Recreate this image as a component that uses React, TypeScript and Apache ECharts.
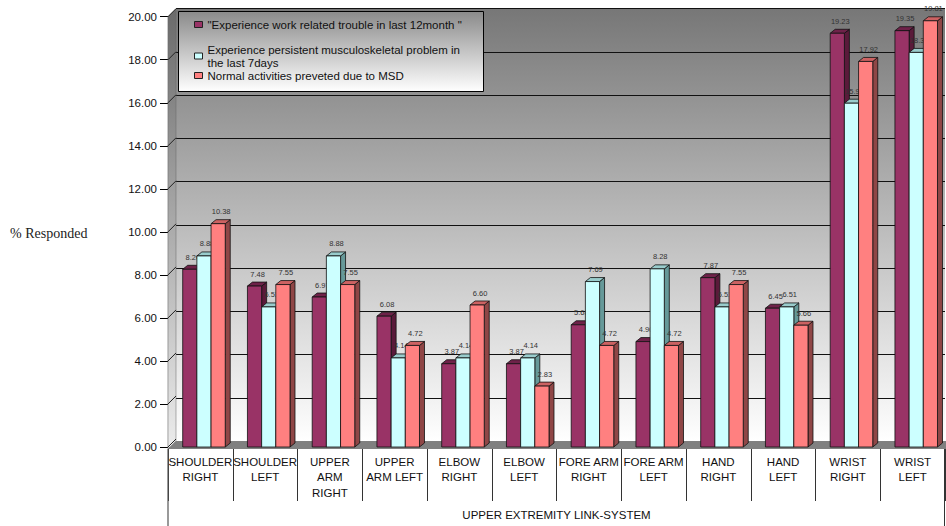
import React, { useEffect, useRef } from "react";
import * as echarts from "echarts";

const categories = [
  "SHOULDER\nRIGHT",
  "SHOULDER\nLEFT",
  "UPPER\nARM\nRIGHT",
  "UPPER\nARM LEFT",
  "ELBOW\nRIGHT",
  "ELBOW\nLEFT",
  "FORE ARM\nRIGHT",
  "FORE ARM\nLEFT",
  "HAND\nRIGHT",
  "HAND\nLEFT",
  "WRIST\nRIGHT",
  "WRIST\nLEFT",
];

const seriesNames = [
  "\"Experience work related trouble in last 12month \"",
  "Experience persistent musculoskeletal problem in the last 7days",
  "Normal activities preveted due to MSD",
];

const trouble12month = [8.26, 7.48, 6.97, 6.08, 3.87, 3.87, 5.68, 4.9, 7.87, 6.45, 19.23, 19.35];
const persistent7days = [8.88, 6.51, 8.88, 4.14, 4.14, 4.14, 7.69, 8.28, 6.51, 6.51, 15.98, 18.34];
const preventedMSD = [10.38, 7.55, 7.55, 4.72, 6.6, 2.83, 4.72, 4.72, 7.55, 5.66, 17.92, 19.81];

const yTicks = [0, 2, 4, 6, 8, 10, 12, 14, 16, 18, 20];

const xAxisTitle = "UPPER EXTREMITY LINK-SYSTEM";
const yAxisTitle = "% Responded";

const FONT = "'Liberation Sans', Arial, sans-serif";

const palette = [
  { front: "#993366", top: "#6e2249", side: "#5a1a3a" },
  { front: "#ccffff", top: "#99cccc", side: "#669999" },
  { front: "#ff8080", top: "#cc6262", side: "#8f4646" },
];

function makeRender(s: number) {
  const c = palette[s];
  return (params: any, api: any) => {
    const ci = api.value(0);
    const v = api.value(1);
    const base = api.coord([ci, 0]);
    const top = api.coord([ci, v]);
    const band = api.size([1, 0])[0];
    const w = band * 0.219;
    const x0 = base[0] - band / 2 + band * 0.227 + s * w;
    const d = 5;
    const dy = 4;
    const yb = base[1];
    const yt = top[1];
    return {
      type: "group",
      children: [
        {
          type: "polygon",
          shape: { points: [[x0 + w, yt], [x0 + w + d, yt - dy], [x0 + w + d, yb - dy], [x0 + w, yb]] },
          style: { fill: c.side, stroke: "#111", lineWidth: 0.8 },
        },
        {
          type: "polygon",
          shape: { points: [[x0, yt], [x0 + d, yt - dy], [x0 + w + d, yt - dy], [x0 + w, yt]] },
          style: { fill: c.top, stroke: "#111", lineWidth: 0.8 },
        },
        {
          type: "rect",
          shape: { x: x0, y: yt, width: w, height: yb - yt },
          style: { fill: c.front, stroke: "#111", lineWidth: 0.8 },
        },
        {
          type: "text",
          x: x0 + w / 2 + 3,
          y: yt - 12,
          style: {
            text: v.toFixed(2),
            fontSize: 7.5,
            fontFamily: FONT,
            fill: "#333",
            align: "center",
            verticalAlign: "middle",
          },
        },
      ],
    };
  };
}

export default function App() {
  const ref = useRef<HTMLDivElement>(null);

  useEffect(() => {
    if (!ref.current) return;
    document.body.style.margin = "0";
    const chart = echarts.init(ref.current, undefined, { renderer: "svg" });
    const seriesData = [trouble12month, persistent7days, preventedMSD];

    const legendCommon = {
      orient: "vertical",
      left: 189,
      icon: "rect",
      itemWidth: 8,
      itemHeight: 6,
      itemGap: 0,
      selectedMode: false,
      z: 11,
      textStyle: { fontSize: 11.5, fontFamily: FONT, color: "#111", lineHeight: 13 },
      formatter: (name: string) =>
        name === seriesNames[1] ? "Experience persistent musculoskeletal problem in\nthe last 7days" : name,
    };

    const option: any = {
      animation: false,
      backgroundColor: "#ffffff",
      grid: [
        { left: 168, right: 1, top: 16.7, bottom: 77, show: false },
        {
          left: 176,
          right: 1,
          top: 8.7,
          bottom: 85,
          show: true,
          borderWidth: 0,
          backgroundColor: new echarts.graphic.LinearGradient(0, 0, 0, 1, [
            { offset: 0, color: "#777777" },
            { offset: 1, color: "#ffffff" },
          ]),
        },
      ],
      xAxis: [
        {
          type: "category",
          gridIndex: 0,
          data: categories,
          axisLine: { show: true, lineStyle: { color: "#000", width: 1 } },
          axisTick: { show: true, alignWithLabel: false, interval: 0, length: 54, lineStyle: { color: "#333" } },
          axisLabel: {
            interval: 0,
            fontSize: 11.5,
            fontFamily: FONT,
            color: "#111",
            lineHeight: 15.5,
            margin: 7,
          },
          name: xAxisTitle,
          nameLocation: "middle",
          nameGap: 62,
          nameTextStyle: { fontSize: 11.5, fontFamily: FONT, color: "#111" },
          splitLine: { show: false },
        },
        { type: "category", gridIndex: 1, data: categories, show: false },
      ],
      yAxis: [
        {
          type: "value",
          gridIndex: 0,
          min: 0,
          max: 20,
          interval: 2,
          axisLine: { show: true, lineStyle: { color: "#555", width: 1.2 } },
          axisTick: { show: true, length: 8, lineStyle: { color: "#000" } },
          axisLabel: {
            fontSize: 11.5,
            fontFamily: FONT,
            color: "#111",
            margin: 11,
            formatter: (v: number) => v.toFixed(2),
          },
          splitLine: { show: false },
        },
        {
          type: "value",
          gridIndex: 1,
          min: 0,
          max: 20,
          interval: 2,
          axisLine: { show: false },
          axisTick: { show: false },
          axisLabel: { show: false },
          splitLine: { show: true, lineStyle: { color: "#111", width: 1 } },
        },
      ],
      legend: [
        { ...legendCommon, top: 13, data: [{ name: seriesNames[0], itemStyle: { color: palette[0].front, borderColor: "#222", borderWidth: 1 } }] },
        { ...legendCommon, top: 38, data: [{ name: seriesNames[1], itemStyle: { color: palette[1].front, borderColor: "#222", borderWidth: 1 } }] },
        { ...legendCommon, top: 64, data: [{ name: seriesNames[2], itemStyle: { color: palette[2].front, borderColor: "#222", borderWidth: 1 } }] },
      ],
      graphic: [
        {
          type: "polygon",
          z: 1,
          silent: true,
          shape: { points: [[168, 449], [168, 16.7], [176, 8.7], [176, 441]] },
          style: {
            fill: new echarts.graphic.LinearGradient(0, 0, 0, 1, [
              { offset: 0, color: "#6a6a6a" },
              { offset: 1, color: "#ececec" },
            ]),
            stroke: "#666",
            lineWidth: 0.5,
          },
        },
        {
          type: "polygon",
          z: 1,
          silent: true,
          shape: { points: [[168, 449], [176, 441], [946, 441], [946, 449]] },
          style: { fill: "#808080" },
        },
        {
          type: "line",
          z: 5,
          silent: true,
          shape: { x1: 168, y1: 449, x2: 168, y2: 526 },
          style: { stroke: "#555", lineWidth: 1.2 },
        },
        {
          type: "line",
          z: 5,
          silent: true,
          shape: { x1: 944.5, y1: 449, x2: 944.5, y2: 526 },
          style: { stroke: "#333", lineWidth: 1 },
        },
        {
          type: "rect",
          z: 10,
          silent: true,
          shape: { x: 178.5, y: 11.5, width: 305, height: 80 },
          style: {
            fill: new echarts.graphic.LinearGradient(0, 0, 0, 1, [
              { offset: 0, color: "#8a8a8a" },
              { offset: 1, color: "#ffffff" },
            ]),
            stroke: "#000",
            lineWidth: 1,
          },
        },
        {
          type: "text",
          z: 10,
          silent: true,
          x: 10,
          y: 233,
          style: {
            text: yAxisTitle,
            fontSize: 14,
            fontFamily: "'Liberation Serif', 'Times New Roman', serif",
            fill: "#222",
            verticalAlign: "middle",
          },
        },
      ],
      series: [
        {
          type: "custom",
          name: "ticks3d",
          xAxisIndex: 0,
          yAxisIndex: 0,
          z: 3,
          silent: true,
          data: yTicks.map((t) => [0, t]),
          renderItem: (params: any, api: any) => {
            const p = api.coord([0, api.value(1)]);
            const x = params.coordSys.x;
            return {
              type: "line",
              shape: { x1: x, y1: p[1], x2: x + 8, y2: p[1] - 8 },
              style: { stroke: "#222", lineWidth: 1 },
            };
          },
        },
        ...seriesNames.map((name, s) => ({
          type: "custom",
          name,
          xAxisIndex: 0,
          yAxisIndex: 0,
          z: 4,
          silent: true,
          itemStyle: { color: palette[s].front },
          data: seriesData[s].map((v, i) => [i, v]),
          encode: { x: 0, y: 1 },
          renderItem: makeRender(s),
        })),
      ],
    };

    chart.setOption(option);
    return () => chart.dispose();
  }, []);

  return <div ref={ref} style={{ width: 946, height: 526 }} />;
}
